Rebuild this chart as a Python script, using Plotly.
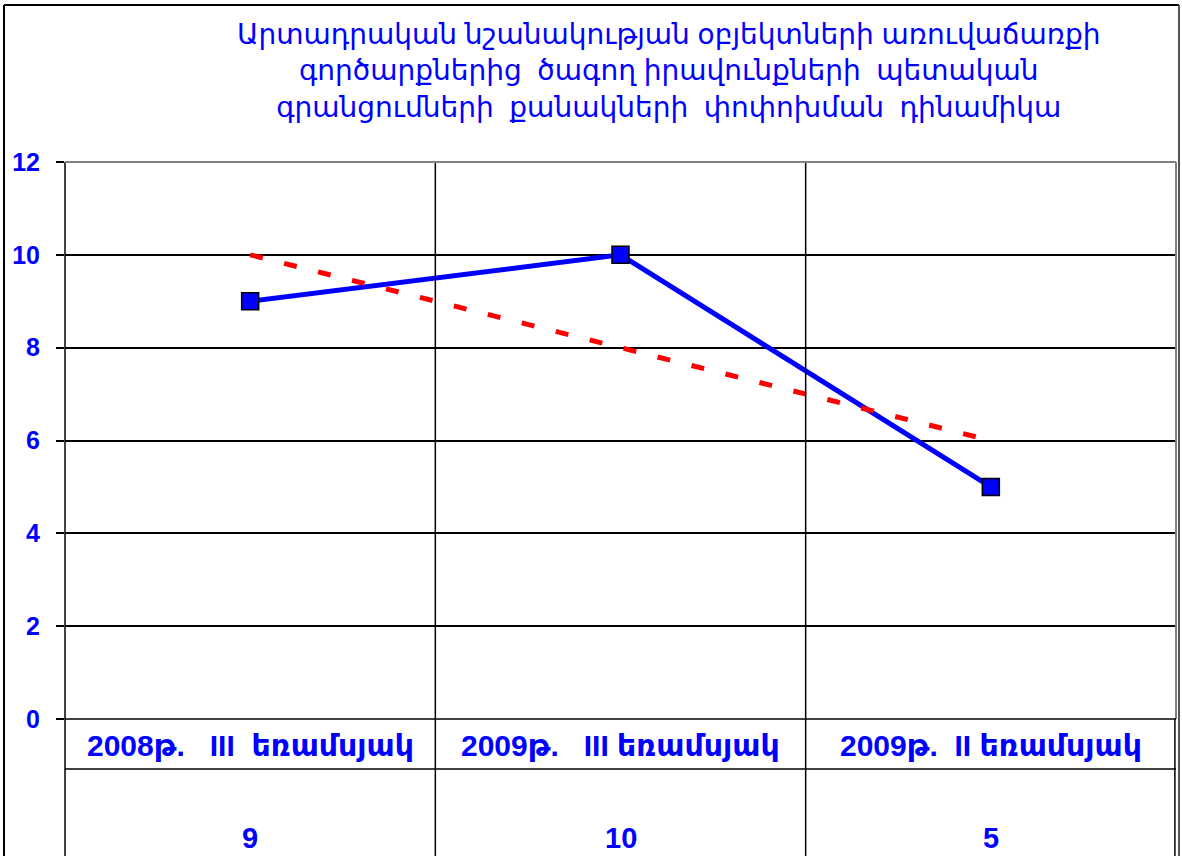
import plotly.graph_objects as go

TITLE_LINES = [
    "Արտադրական նշանակության օբյեկտների առուվաճառքի",
    "գործարքներից  ծագող իրավունքների  պետական",
    "գրանցումների  քանակների  փոփոխման  դինամիկա",
]
CATEGORIES = [
    "2008թ.   III  եռամսյակ",
    "2009թ.   III եռամսյակ",
    "2009թ.  II եռամսյակ",
]
VALUES = [9, 10, 5]
TREND = [10, 8, 6]
Y_TICKS = [0, 2, 4, 6, 8, 10, 12]

BLUE = "#0000ff"
FONT = "Liberation Sans, Arial, DejaVu Sans, sans-serif"

x_pos = list(range(len(CATEGORIES)))

fig = go.Figure()

fig.add_trace(
    go.Scatter(
        x=x_pos,
        y=VALUES,
        mode="lines+markers",
        line={"color": BLUE, "width": 5},
        marker={"symbol": "square", "size": 17, "color": BLUE,
                "line": {"color": "black", "width": 1.5}},
        showlegend=False,
        hoverinfo="skip",
    )
)
fig.add_trace(
    go.Scatter(
        x=x_pos,
        y=TREND,
        mode="lines",
        line={"color": "#ff0000", "width": 5, "dash": "13px,22px"},
        showlegend=False,
        hoverinfo="skip",
    )
)

# table under the plot: category row and value row
annotations = []
for i, (cat, val) in enumerate(zip(CATEGORIES, VALUES)):
    annotations.append(dict(
        x=i, y=-0.047, xref="x", yref="paper", showarrow=False,
        text="<b>" + cat.replace(" ", "\u00a0") + "</b>",
        font={"family": FONT, "size": 30, "color": BLUE},
        xanchor="center", yanchor="middle",
    ))
    annotations.append(dict(
        x=i, y=-0.214, xref="x", yref="paper", showarrow=False,
        text=f"<b>{val}</b>",
        font={"family": FONT, "size": 29, "color": BLUE},
        xanchor="center", yanchor="middle",
    ))

annotations.append(dict(
    x=0.5437, y=1.164, xref="paper", yref="paper", showarrow=False,
    text="<br>".join(t.replace("  ", "\u00a0\u00a0") for t in TITLE_LINES),
    font={"family": FONT, "size": 28, "color": BLUE},
    xanchor="center", yanchor="middle", align="center",
))

line_k = {"color": "black", "width": 1.5}
line_g = {"color": "#808080", "width": 2}
shapes = [
    # category separators through plot and table
    dict(type="line", xref="paper", yref="paper", x0=1 / 3, x1=1 / 3, y0=-0.3, y1=1, line=line_k),
    dict(type="line", xref="paper", yref="paper", x0=2 / 3, x1=2 / 3, y0=-0.3, y1=1, line=line_k),
    dict(type="line", xref="paper", yref="paper", x0=0, x1=0, y0=-0.3, y1=1, line=line_k),
    # plot area border (grey)
    dict(type="line", xref="paper", yref="paper", x0=0, x1=1, y0=1, y1=1, line=line_g),
    dict(type="line", xref="paper", yref="paper", x0=1, x1=1, y0=0, y1=1, line=line_g),
    dict(type="line", xref="paper", yref="paper", x0=0.999, x1=0.999, y0=-0.3, y1=0, line=line_k),
    # table rows
    dict(type="line", xref="paper", yref="paper", x0=0, x1=1, y0=0, y1=0, line=line_k),
    dict(type="line", xref="paper", yref="paper", x0=0, x1=1, y0=-0.0898, y1=-0.0898, line=line_k),
    # outer chart frame
    dict(type="line", xref="paper", yref="paper", x0=-0.0549, x1=-0.0549, y0=-0.3, y1=1.2819,
         line={"color": "black", "width": 2}),
    dict(type="line", xref="paper", yref="paper", x0=-0.0549, x1=1.0027, y0=1.2819, y1=1.2819,
         line={"color": "black", "width": 2}),
    dict(type="line", xref="paper", yref="paper", x0=1.0027, x1=1.0027, y0=-0.3, y1=1.2819,
         line={"color": "#555555", "width": 2}),
]

fig.update_layout(
    width=1182,
    height=856,
    margin={"l": 65, "r": 6, "t": 162, "b": 137},
    paper_bgcolor="white",
    plot_bgcolor="white",
    showlegend=False,
    annotations=annotations,
    shapes=shapes,
    xaxis={
        "range": [-0.5, 2.5],
        "showticklabels": False,
        "showgrid": False,
        "zeroline": False,
        "showline": False,
        "fixedrange": True,
    },
    yaxis={
        "range": [0, 12],
        "tickvals": Y_TICKS,
        "ticks": "outside",
        "ticklen": 8,
        "tickwidth": 1.5,
        "tickcolor": "black",
        "ticklabelstandoff": 11,
        "showgrid": True,
        "gridcolor": "black",
        "gridwidth": 1.5,
        "zeroline": False,
        "showline": False,
        "tickfont": {"family": FONT, "size": 25, "color": BLUE, "weight": "bold"},
        "fixedrange": True,
    },
)

fig.write_html(
    "out.html",
    config={"displayModeBar": False},
    post_script="document.body.style.margin = '0';",
)
